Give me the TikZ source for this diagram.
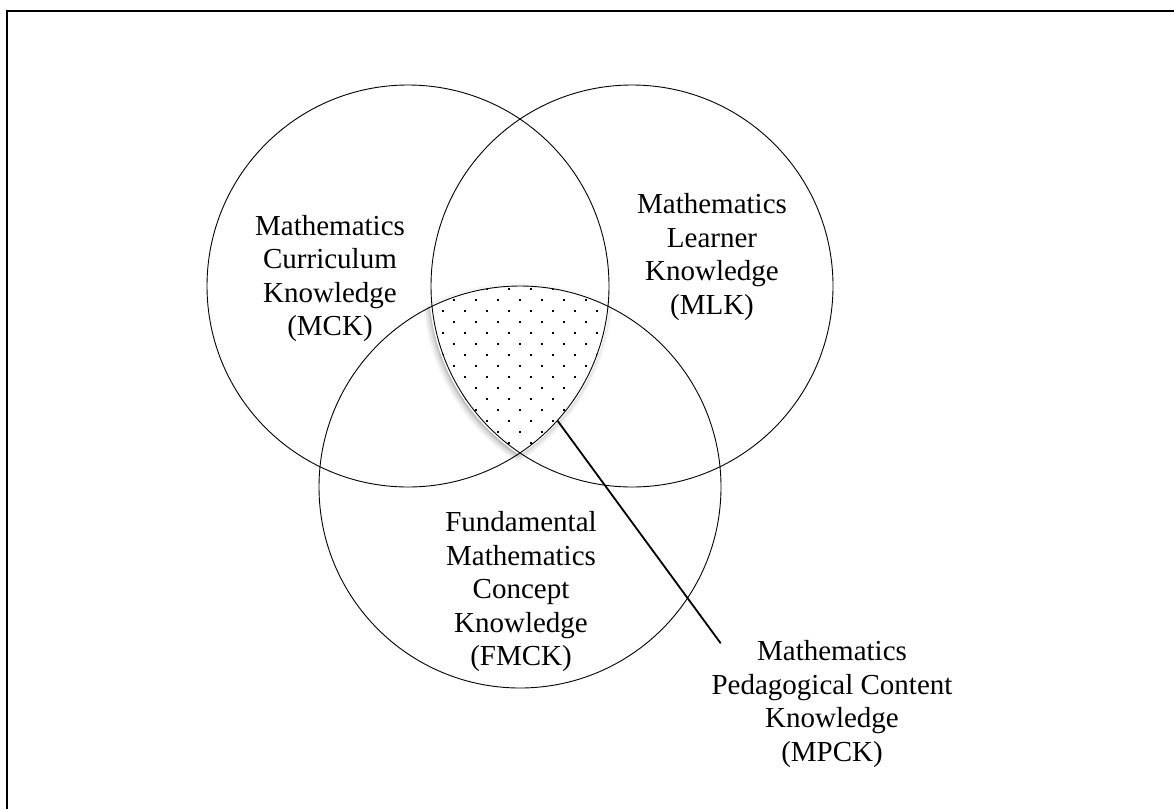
\documentclass[tikz,border=0pt]{standalone}
\usepackage{fontspec}
\setmainfont{Liberation Serif}
\begin{document}
\begin{tikzpicture}[x=1pt,y=-1pt,
  venn/.style={draw, circle, minimum size=402pt, inner sep=0pt, outer sep=0pt, line width=0.9pt},
  lbl/.style={align=center, font=\fontsize{29pt}{33.5pt}\selectfont, inner sep=0pt},
  frameline/.style={line width=2pt},
  leader/.style={line width=1.8pt}]
\useasboundingbox (0,0) rectangle (1174,809);
\def\lenspath{(432,306.3) arc[start angle=-115.97,end angle=-64.03,radius=201] arc[start angle=5.8,end angle=56.23,radius=201] arc[start angle=123.77,end angle=174.2,radius=201] -- cycle}
% frame
\draw[frameline] (1174,11) -- (7,11) -- (7,809);
% soft shadow of the shaded region
\foreach \w/\o in {12/0.03,9/0.04,6/0.05,3/0.06}{
  \draw[black, opacity=\o, line width=\w pt, line join=round, shift={(-2,3)}] \lenspath;
}
\fill[black, opacity=0.1, shift={(-2,3)}] \lenspath;
% white region with outline
\fill[white] \lenspath;
\draw[white, line width=3pt, line join=round] \lenspath;
% dot pattern
\begin{scope}
  \clip \lenspath;
  \foreach \i in {-3,...,6}{
    \foreach \j in {-1,...,7}{
      \fill (487.3+22*\i-1, 310.7+22*\j-1) rectangle ++(2,2);
      \fill (498.3+22*\i-1, 321.7+22*\j-1) rectangle ++(2,2);
    }
  }
\end{scope}
% circles
\node[venn] (mck) at (408,286) {};
\node[venn] (mlk) at (632,286) {};
\node[venn] (fmck) at (520,487) {};
% labels
\node[lbl] (mckl) at (330,278.5) {Mathematics\\Curriculum\\Knowledge\\(MCK)};
\node[lbl] (mlkl) at (712,257) {Mathematics\\Learner\\Knowledge\\(MLK)};
\node[lbl] (fmckl) at (521,592) {Fundamental\\Mathematics\\Concept\\Knowledge\\(FMCK)};
\node[lbl] (mpckl) at (832,704) {Mathematics\\Pedagogical Content\\Knowledge\\(MPCK)};
% leader line
\coordinate (tip) at (720.7,643.3);
\draw[leader] (mck.-42) -- (tip);
\end{tikzpicture}
\end{document}
